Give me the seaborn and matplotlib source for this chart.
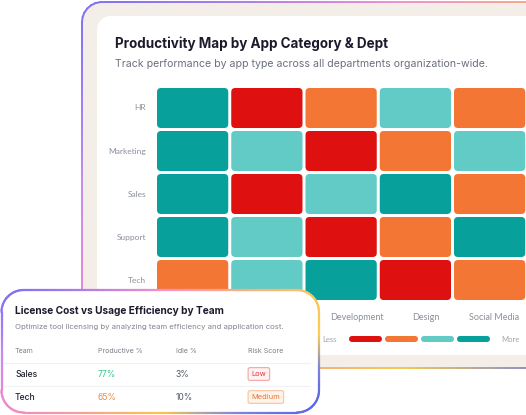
import numpy as np
import pandas as pd
import matplotlib
matplotlib.use("Agg")
import matplotlib.pyplot as plt
import matplotlib.transforms as mtransforms
import seaborn as sns
from matplotlib.colors import ListedColormap, LinearSegmentedColormap
from matplotlib.patches import FancyBboxPatch, Polygon
from matplotlib.collections import LineCollection

# heatmap data: 0 = less productive ... 3 = more productive
departments = ["HR", "Marketing", "Sales", "Support", "Tech"]
categories = ["Communication", "Project Mgmt", "Development", "Design", "Social Media"]
levels = [
    [3, 0, 1, 2, 1],
    [3, 2, 0, 1, 2],
    [3, 0, 2, 3, 1],
    [3, 2, 0, 1, 3],
    [1, 2, 3, 0, 1],
]
level_colors = ["#df1010", "#f37634", "#63cbc6", "#08a09a"]

# overlay table data
teams = ["Sales", "Tech"]
productive_pct = [77, 65]
idle_pct = [3, 10]
risk_score = ["Low", "Medium"]
risk_style = {"Low": ("#fff1f1", "#f3a5a5", "#d93a3f"),
              "Medium": ("#fff2e9", "#f8c4a2", "#e8793a")}
pct_colors = ["#36c98e", "#f08a4b"]

sns.set_theme(style="white")
plt.rcParams["font.family"] = ["Inter", "DejaVu Sans"]

W, H = 526, 415
fig = plt.figure(figsize=(W / 100, H / 100), dpi=100)
fig.patch.set_facecolor("white")


def px_axes(x0, y0, x1, y1, **kw):
    return fig.add_axes([x0 / W, 1 - y1 / H, (x1 - x0) / W, (y1 - y0) / H], **kw)


def rrect(x0, y0, x1, y1, r, n=400):
    pts = []
    for cx, cy, a0 in [(x0 + r, y0 + r, 180), (x1 - r, y0 + r, 270),
                       (x1 - r, y1 - r, 0), (x0 + r, y1 - r, 90)]:
        t = np.radians(np.linspace(a0, a0 + 90, 20))
        pts += list(zip(cx + r * np.cos(t), cy + r * np.sin(t)))
    pts.append(pts[0])
    pts = np.array(pts)
    d = np.r_[0, np.cumsum(np.hypot(*np.diff(pts, axis=0).T))]
    s = np.linspace(0, d[-1], n)
    return np.c_[np.interp(s, d, pts[:, 0]), np.interp(s, d, pts[:, 1])]


border_cmap = LinearSegmentedColormap.from_list("border", [
    (0.0, "#c48cf0"), (0.125, "#f487c8"), (0.25, "#f6c94a"), (0.32, "#7d86de"),
    (0.375, "#5563e8"), (0.45, "#7a7fe0"), (0.54, "#fbcf52"), (0.625, "#fcc25e"),
    (0.69, "#f9a78c"), (0.75, "#f291d0"), (0.875, "#7f6ff5"), (1.0, "#c48cf0")])


def gradient_box(ax, x0, y0, x1, y1, r, fill, lw=1.4, z=1):
    pts = rrect(x0, y0, x1, y1, r)
    ax.add_patch(Polygon(pts, closed=True, fc=fill, ec="none", zorder=z))
    cx, cy, hw, hh = (x0 + x1) / 2, (y0 + y1) / 2, (x1 - x0) / 2, (y1 - y0) / 2
    mid = (pts[1:] + pts[:-1]) / 2
    ang = np.degrees(np.arctan2(-(mid[:, 1] - cy) / hh, (mid[:, 0] - cx) / hw))
    segs = np.stack([pts[:-1], pts[1:]], axis=1)
    ax.add_collection(LineCollection(segs, colors=border_cmap((ang + 180) / 360),
                                     linewidths=lw, zorder=z + 1, capstyle="round"))


# background frame
bg = px_axes(0, 0, W, H)
bg.set_xlim(0, W)
bg.set_ylim(H, 0)
bg.axis("off")
gradient_box(bg, 82, 2, 720, 368, 20, "#f3efe8")
bg.add_patch(Polygon(rrect(97, 16, 700, 355, 13), closed=True, fc="white", ec="none", zorder=3))
bg.text(115, 44, "Productivity Map by App Category & Dept", fontsize=9.7,
        fontweight="bold", color="#1c1b2e", va="center", zorder=4)
bg.text(115, 64, "Track performance by app type across all departments organization-wide.",
        fontsize=7.6, color="#6b7080", va="center", zorder=4)

# heatmap
df = pd.DataFrame(levels, index=departments, columns=categories)
hm = px_axes(155.5, 86.5, 526.75, 301.5)
sns.heatmap(df, cmap=ListedColormap(level_colors), vmin=-0.5, vmax=3.5,
            cbar=False, ax=hm)
mesh = hm.collections[0]
mesh.update_scalarmappable()
cell_fc = mesh.get_facecolors()
mesh.set_visible(False)
aspect = 74.25 / 43
dx, dy = 1.5 / 74.25, 1.5 / 43
for i in range(len(departments)):
    for j in range(len(categories)):
        hm.add_patch(FancyBboxPatch(
            (j + dx, i + dy), 1 - 2 * dx, 1 - 2 * dy,
            boxstyle="round,pad=0,rounding_size=0.054", mutation_aspect=aspect,
            fc=cell_fc[i * len(categories) + j], ec="none"))
hm.set_xlabel("")
hm.set_ylabel("")
hm.tick_params(length=0)
hm.tick_params(axis="y", pad=6.8, labelsize=6, labelcolor="#8a8f99", labelrotation=0)
hm.tick_params(axis="x", pad=8, labelsize=6.5, labelcolor="#8a8f99", labelrotation=0)
for lab in hm.get_yticklabels() + hm.get_xticklabels():
    lab.set_family(["Lato", "DejaVu Sans"])
for k, lab in enumerate(hm.get_xticklabels()):
    shift = mtransforms.ScaledTranslation((28 - 6 * k) / 100, 0, fig.dpi_scale_trans)
    lab.set_transform(lab.get_transform() + shift)
    # the first two labels sit under the overlay card in the reference
    if k < 2:
        lab.set_visible(False)

# legend
lg = px_axes(347.5, 333, 491.5, 345)
lg.set_xlim(-0.5, 3.5)
lg.set_ylim(0, 1)
lg.axis("off")
for k, c in enumerate(level_colors):
    lg.add_patch(FancyBboxPatch((k - 0.458, 0.25), 0.916, 0.5,
                                boxstyle="round,pad=0,rounding_size=0.083",
                                mutation_aspect=3, fc=c, ec="none"))
lg.text(-0.5 - 11 / 36, 0.5, "Less", ha="right", va="center", fontsize=5.5,
        color="#a0a4ad", family=["Lato", "DejaVu Sans"])
lg.text(3.5 + 9.5 / 36, 0.5, "More", ha="left", va="center", fontsize=5.5,
        color="#a0a4ad", family=["Lato", "DejaVu Sans"])

# overlay card
ov = px_axes(0, 0, W, H)
ov.set_zorder(10)
ov.set_xlim(0, W)
ov.set_ylim(H, 0)
ov.axis("off")
gradient_box(ov, 1.5, 290, 319, 412.5, 22, "white", lw=1.6)
ov.text(15, 311, "License Cost vs Usage Efficiency by Team", fontsize=7.3,
        fontweight="bold", color="#1c1b2e", va="center", zorder=5)
ov.text(15, 327, "Optimize tool licensing by analyzing team efficiency and application cost.",
        fontsize=5.6, color="#80848f", va="center", zorder=5)
col_x = [15, 98, 176, 248]
for x, h in zip(col_x, ["Team", "Productive %", "Idle %", "Risk Score"]):
    ov.text(x, 351, h, fontsize=5.1, color="#7c808b", va="center", zorder=5)
for y in [363, 386]:
    ov.plot([3, 310], [y, y], color="#f0f1f3", lw=0.8, zorder=4)
for k, (team, p, idle, risk) in enumerate(zip(teams, productive_pct, idle_pct, risk_score)):
    y = 374 + 23 * k
    ov.text(col_x[0], y, team, fontsize=6.2, fontweight="medium", color="#1f2230",
            va="center", zorder=5)
    ov.text(col_x[1], y, f"{p}%", fontsize=6.2, color=pct_colors[k], va="center", zorder=5)
    ov.text(col_x[2], y, f"{idle}%", fontsize=6.2, color="#555a66", va="center", zorder=5)
    fc, ec, tc = risk_style[risk]
    ov.text(col_x[3] + 3.5, y, risk, fontsize=5.4, color=tc, va="center", zorder=5,
            bbox=dict(boxstyle="round,pad=0.45,rounding_size=0.25", fc=fc, ec=ec, lw=0.8))

fig.savefig("out.png", dpi=100)
